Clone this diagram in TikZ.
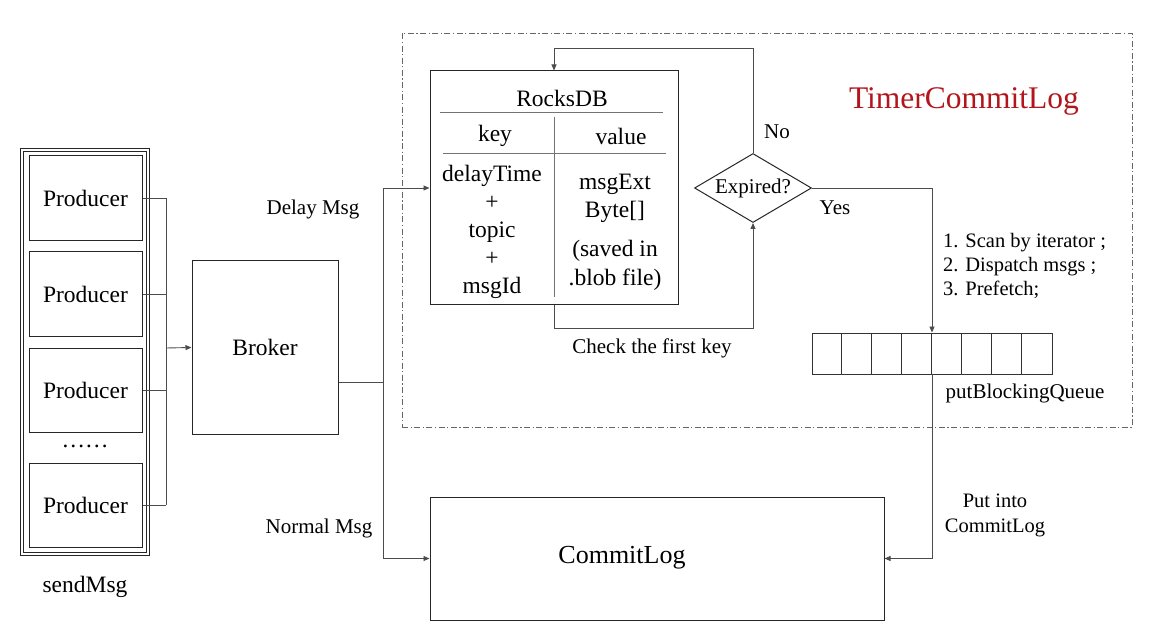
\documentclass[tikz,border=0pt]{standalone}
\usepackage{fontspec}
\setmainfont{LiberationSerif}[Extension=.ttf, UprightFont=*-Regular, BoldFont=*-Bold]
\usetikzlibrary{arrows.meta,shapes.geometric,calc}
\definecolor{timerred}{RGB}{178,22,28}
\begin{document}
\begin{tikzpicture}[x=1pt,y=-1pt,
  box/.style={draw=black!85, line width=1pt, inner sep=0pt},
  conn/.style={draw=black!70, line width=0.9pt},
  arr/.style={conn, -{Triangle[length=6pt,width=5pt]}},
  inner/.style={draw=black!55, line width=0.8pt},
  lbl/.style={font=\fontsize{21}{24}\selectfont, inner sep=0pt},
  big/.style={font=\fontsize{23.5}{28}\selectfont, inner sep=0pt},
  dashdotbox/.style={draw=black!60, line width=0.9pt, dash pattern=on 6pt off 2.5pt on 1.2pt off 2.5pt}]
\useasboundingbox (0,0) rectangle (1162,636);

% sendMsg group
\node[draw=black!85, line width=0.8pt, double, double distance=1.6pt, minimum width=126pt, minimum height=404pt, inner sep=0pt] (send) at (85,352) {};
\node[box, big, minimum width=113pt, minimum height=85pt] (p1) at (85.5,198.5) {Producer};
\node[box, big, minimum width=113pt, minimum height=85pt] (p2) at (85.5,294.5) {Producer};
\node[box, big, minimum width=113pt, minimum height=84pt] (p3) at (85.5,390) {Producer};
\node[big] (dots) at (85,446) {……};
\node[box, big, minimum width=113pt, minimum height=84pt] (p4) at (85.5,505) {Producer};
\node[big] (sendlbl) at (85,587) {sendMsg};

% Broker
\node[box, big, minimum width=146pt, minimum height=173pt] (broker) at (265,347.5) {Broker};
\coordinate (j) at (166,348);
\draw[conn] (p1.east) -- (p1.east -| j);
\draw[conn] (p2.east) -- (p2.east -| j);
\draw[conn] (p3.east) -- (p3.east -| j);
\draw[conn] (p4.east) -- (p4.east -| j);
\draw[conn] (p1.east -| j) -- (p4.east -| j);
\draw[arr] (j) -- (broker.west);

% Timer box
\node[dashdotbox, minimum width=730pt, minimum height=394pt, inner sep=0pt] (timer) at (767,230) {};
\node[font=\fontsize{31.5}{34}\selectfont, text=timerred, inner sep=0pt] (timerlbl) at (964,101) {TimerCommitLog};

% RocksDB
\node[box, minimum width=248pt, minimum height=234pt] (rocks) at (554,188) {};
\node[big] (rtitle) at (562,98) {RocksDB};
\draw[inner] (440,112) -- (663,112);
\draw[inner] (443,153) -- (666,153);
\draw[inner] (554,117) -- (554,297);
\node[big] (keyh) at (495,136) {key};
\node[big] (valh) at (621,136) {value};
\node[big, align=center, font=\fontsize{23.5}{28}\selectfont] (keycol) at (492,232) {delayTime\\+\\topic\\+\\msgId};
\node[big, align=center, font=\fontsize{23.5}{28}\selectfont] (valcol1) at (615,198) {msgExt\\Byte[]};
\node[big, align=center, font=\fontsize{23.5}{29}\selectfont] (valcol2) at (615,265.5) {(saved in\\.blob file)};

% Expired diamond
\node[diamond, draw=black!85, line width=1pt, aspect=1.7, minimum width=117pt, minimum height=69pt, inner sep=0pt, font=\fontsize{21}{24}\selectfont] (exp) at (753,188) {Expired?};
\draw[arr] (exp.north) -- ++(0,-105) -| (rocks.north);
\node[lbl] (nolbl) at (777,132) {No};
\draw[arr] (rocks.south) -- ++(0,23) -| (exp.south);
\node[lbl] (checklbl) at (652,348) {Check the first key};

% Queue
\node[draw=black!80, line width=0.9pt, minimum width=240pt, minimum height=41pt, inner sep=0pt] (q) at (932,353.5) {};
\foreach \i in {1,...,7} {\draw[draw=black!80, line width=0.9pt] ($(q.north west)+(30*\i,0)$) -- ($(q.south west)+(30*\i,0)$);}
\node[lbl] (qlbl) at (1025,393) {putBlockingQueue};
\draw[arr] (exp.east) -| (q.north);
\node[lbl] (yeslbl) at (835,208) {Yes};
\node[lbl, anchor=west, align=left, font=\fontsize{20.5}{24}\selectfont] (steps) at (943,266) {1. Scan by iterator ;\\2. Dispatch msgs ;\\3. Prefetch;};

% CommitLog
\node[box, minimum width=454pt, minimum height=123pt] (commit) at (657,558.5) {};
\node[font=\fontsize{26}{30}\selectfont, inner sep=0pt] (committxt) at (622,558) {CommitLog};
\draw[arr] (q.south) |- (commit.east);
\node[lbl, align=center, font=\fontsize{20.5}{25}\selectfont] (putlbl) at (995,515) {Put into\\CommitLog};

% Broker out
\coordinate (bj) at (383,382);
\draw[conn] (broker.east |- bj) -- (bj);
\draw[arr] (bj) |- (rocks.west);
\draw[arr] (bj) |- (commit.west);
\node[lbl] (delaylbl) at (313,209) {Delay Msg};
\node[lbl] (normallbl) at (319,528) {Normal Msg};
\end{tikzpicture}
\end{document}
